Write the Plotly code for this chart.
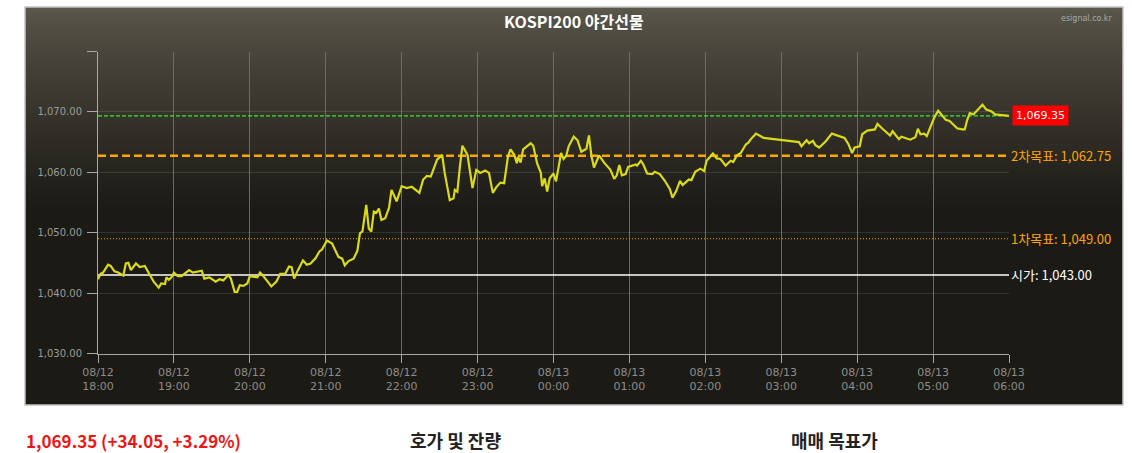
import pandas as pd
import plotly.graph_objects as go

# minutes after 08/12 18:00 and KOSPI200 night futures price
minutes = [
    0, 2, 4, 8, 10, 13, 16, 20, 22, 24, 26, 30, 33, 37, 41, 44, 48, 50, 53, 54,
    56, 58, 60, 63, 66, 72, 75, 80, 82, 84, 88, 93, 96, 99, 103, 105, 108, 110, 112, 115,
    118, 120, 123, 126, 128, 130, 133, 137, 141, 144, 148, 151, 153, 155, 158, 162, 165, 168, 172, 175,
    177, 181, 185, 187, 190, 193, 195, 198, 202, 205, 207, 209, 212, 214, 216, 218, 220, 222, 224, 227,
    230, 232, 236, 240, 244, 248, 251, 254, 257, 260, 263, 265, 268, 272, 274, 278, 281, 282, 284, 286,
    288, 292, 294, 296, 299, 302, 306, 309, 312, 315, 318, 321, 324, 326, 329, 331, 332, 334, 336, 339,
    342, 344, 347, 350, 351, 353, 355, 357, 360, 362, 366, 368, 370, 372, 376, 379, 382, 386, 388, 390,
    392, 396, 400, 405, 408, 410, 412, 414, 417, 419, 422, 425, 426, 429, 431, 434, 438, 440, 444, 448,
    452, 454, 457, 460, 462, 467, 469, 472, 476, 479, 481, 484, 486, 489, 492, 496, 500, 502, 505, 508,
    512, 514, 516, 520, 526, 554, 556, 560, 562, 565, 567, 570, 575, 580, 585, 590, 593, 596, 598, 602,
    604, 608, 614, 616, 620, 624, 626, 628, 631, 633, 635, 638, 642, 646, 648, 650, 653, 655, 658, 661,
    664, 667, 670, 673, 676, 679, 683, 685, 687, 689, 692, 696, 699, 702, 706, 709, 713, 720,
]
prices = [
    1042.3, 1043.2, 1043.4, 1044.7, 1044.5, 1043.6, 1043.4, 1042.9, 1044.9, 1045.0,
    1043.8, 1044.9, 1044.3, 1044.5, 1043.0, 1041.9, 1040.9, 1041.6, 1041.5, 1042.6,
    1042.2, 1042.6, 1043.4, 1042.8, 1042.8, 1043.8, 1043.4, 1043.6, 1043.7, 1042.4,
    1042.6, 1041.9, 1042.3, 1042.1, 1043.0, 1042.4, 1040.2, 1040.2, 1041.3, 1041.2,
    1041.6, 1042.8, 1042.7, 1042.6, 1043.4, 1043.0, 1042.2, 1041.1, 1041.9, 1043.2,
    1043.2, 1044.4, 1044.3, 1042.4, 1043.8, 1045.4, 1044.7, 1044.9, 1045.8, 1046.9,
    1047.2, 1048.7, 1048.2, 1047.2, 1046.0, 1045.7, 1044.6, 1045.3, 1045.7, 1047.0,
    1049.9, 1050.2, 1054.6, 1050.7, 1050.2, 1053.5, 1053.3, 1054.0, 1052.1, 1052.4,
    1054.1, 1057.1, 1055.2, 1057.7, 1057.4, 1057.6, 1057.1, 1056.6, 1058.8, 1059.4,
    1059.3, 1060.4, 1062.1, 1062.9, 1059.9, 1055.4, 1055.7, 1057.1, 1056.8, 1060.9,
    1064.4, 1062.9, 1060.1, 1057.4, 1060.4, 1059.9, 1060.3, 1059.9, 1056.6, 1057.6,
    1058.3, 1058.2, 1062.6, 1063.8, 1062.9, 1061.5, 1062.6, 1061.6, 1063.8, 1064.3,
    1064.8, 1064.4, 1061.5, 1059.9, 1057.7, 1059.0, 1056.8, 1059.0, 1059.8, 1058.5,
    1063.2, 1062.2, 1062.7, 1064.3, 1065.9, 1065.3, 1063.4, 1063.9, 1066.1, 1062.7,
    1060.8, 1062.8, 1061.6, 1060.4, 1058.9, 1059.5, 1061.2, 1059.5, 1059.7, 1060.9,
    1061.1, 1061.3, 1061.1, 1061.9, 1061.3, 1059.8, 1059.7, 1060.1, 1059.7, 1058.6,
    1057.2, 1055.8, 1056.9, 1058.6, 1057.9, 1058.8, 1058.7, 1060.1, 1060.6, 1060.2,
    1061.9, 1062.7, 1063.1, 1062.3, 1062.2, 1061.1, 1061.9, 1061.7, 1062.8, 1063.2,
    1064.6, 1064.9, 1065.5, 1066.4, 1065.7, 1065.0, 1064.3, 1065.3, 1064.8, 1065.2,
    1064.5, 1064.1, 1065.1, 1066.4, 1066.1, 1065.7, 1064.7, 1063.2, 1064.1, 1064.3,
    1066.3, 1066.9, 1067.1, 1068.0, 1067.2, 1066.5, 1066.1, 1066.8, 1065.9, 1065.5,
    1065.9, 1065.7, 1065.4, 1065.8, 1067.2, 1066.3, 1066.4, 1066.0, 1067.6, 1069.1,
    1070.2, 1069.4, 1068.7, 1068.5, 1067.9, 1067.3, 1067.1, 1067.1, 1068.7, 1069.8,
    1069.6, 1070.6, 1071.2, 1070.4, 1070.1, 1069.6, 1069.5, 1069.35,
]

current_price = 1069.35
target2 = 1062.75
target1 = 1049.00
open_price = 1043.00
change_text = "1,069.35 (+34.05, +3.29%)"

tick_labels = [
    "08/12<br>18:00", "08/12<br>19:00", "08/12<br>20:00", "08/12<br>21:00",
    "08/12<br>22:00", "08/12<br>23:00", "08/13<br>00:00", "08/13<br>01:00",
    "08/13<br>02:00", "08/13<br>03:00", "08/13<br>04:00", "08/13<br>05:00",
    "08/13<br>06:00",
]
y_ticks = [1030, 1040, 1050, 1060, 1070]
y_labels = ["1,030.00", "1,040.00", "1,050.00", "1,060.00", "1,070.00"]
y_top = 1080

start = pd.Timestamp("2019-08-12 18:00")
times = [start + pd.Timedelta(minutes=m) for m in minutes]
hours = [start + pd.Timedelta(hours=h) for h in range(len(tick_labels))]
t0, t1 = hours[0], hours[-1]

W, H = 1132, 453


def px(x):
    return x / W


def py(y):
    return (H - y) / H


KR = "Noto Sans CJK KR"

fig = go.Figure()

# reference lines
ref_lines = [
    (current_price, "#2ef02e", 1.3, "4px,2px"),
    (target2, "#ffa500", 2.5, "8px,4px"),
    (target1, "#ffa500", 1, "1px,2px"),
    (open_price, "#ffffff", 1.5, "solid"),
]
for val, col, w, dash in ref_lines:
    fig.add_trace(go.Scatter(
        x=[t0, t1], y=[val, val], mode="lines",
        line=dict(color=col, width=w, dash=dash), hoverinfo="skip",
    ))

fig.add_trace(go.Scatter(
    x=times, y=prices, mode="lines",
    line=dict(color="#dada17", width=2.2), hoverinfo="skip",
))

# dark box with a top gradient
shapes = []
box_l, box_r, box_t, box_b = 25, 1123, 7, 405
top_rgb = (91, 89, 76)
bot_rgb = (28, 26, 21)
g_end = 210
shapes.append(dict(
    type="rect", xref="paper", yref="paper", layer="below",
    x0=px(box_l), x1=px(box_r), y0=py(box_b), y1=py(box_t),
    fillcolor="rgb(%d,%d,%d)" % bot_rgb, line=dict(width=0),
))
n = g_end - box_t
for i in range(n):
    ya = box_t + i
    f = ((i + 0.5) / n) ** 0.8
    c = tuple(round(a + (b - a) * f) for a, b in zip(top_rgb, bot_rgb))
    shapes.append(dict(
        type="rect", xref="paper", yref="paper", layer="below",
        x0=px(box_l), x1=px(box_r), y0=py(ya + 1), y1=py(ya),
        fillcolor="rgb(%d,%d,%d)" % c, line=dict(width=0),
    ))
shapes.append(dict(
    type="rect", xref="paper", yref="paper", layer="below",
    x0=px(box_l), x1=px(box_r), y0=py(box_b), y1=py(box_t),
    fillcolor="rgba(0,0,0,0)", line=dict(color="#c4c4c4", width=1.5),
))


def note(text, x, y, size, color, family=KR, xanchor="center", yref="paper", **kw):
    return dict(text=text, x=x, y=y, xref="paper", yref=yref, xanchor=xanchor,
                yanchor="middle", showarrow=False,
                font=dict(family=family, size=size, color=color), **kw)


annotations = [
    note("<b>KOSPI200 야간선물</b>", px(574), py(21), 16, "#ffffff"),
    note("esignal.co.kr", px(1114), py(19), 8, "#a8a8a0", family="DejaVu Sans", xanchor="right"),
    note("{:,.2f}".format(current_price), px(1012), current_price, 11, "#ffffff",
         family="DejaVu Sans", xanchor="left", yref="y", bgcolor="#ff0000", borderpad=3),
    note("2차목표: {:,.2f}".format(target2), px(1009), target2, 13, "#ffa500",
         xanchor="left", yref="y"),
    note("1차목표: {:,.2f}".format(target1), px(1009), target1, 13, "#ffa500",
         xanchor="left", yref="y"),
    note("시가: {:,.2f}".format(open_price), px(1009), open_price, 13, "#ffffff",
         xanchor="left", yref="y"),
    note("<b>" + change_text + "</b>", px(24), py(440), 17, "#f01414", xanchor="left"),
    note("<b>호가 및 잔량</b>", px(455), py(440), 18, "#222222"),
    note("<b>매매 목표가</b>", px(834), py(440), 18, "#222222"),
]

fig.update_layout(
    width=W, height=H,
    margin=dict(l=0, r=0, t=0, b=0, pad=0),
    paper_bgcolor="#ffffff",
    plot_bgcolor="rgba(0,0,0,0)",
    showlegend=False,
    hovermode=False,
    shapes=shapes,
    annotations=annotations,
    xaxis=dict(
        domain=[px(98), px(1009)], range=[t0, t1], automargin=False,
        tickvals=hours, ticktext=tick_labels,
        ticks="outside", ticklen=8, tickcolor="#a8a8a8",
        showline=True, linecolor="#a8a8a8", linewidth=1,
        showgrid=True, gridcolor="#6a6a66", gridwidth=1,
        zeroline=False,
        tickfont=dict(family="DejaVu Sans", size=11, color="#8c8c88"),
    ),
    yaxis=dict(
        domain=[py(353.5), py(51.5)], range=[1030, y_top], automargin=False,
        tickvals=y_ticks, ticktext=y_labels,
        ticks="outside", ticklen=10, tickcolor="#a8a8a8", ticklabelstandoff=3,
        minor=dict(tickvals=[y_top], ticks="outside", ticklen=10,
                   tickcolor="#a8a8a8", showgrid=False),
        showline=True, linecolor="#a8a8a8", linewidth=1,
        showgrid=True, gridcolor="rgba(255,255,255,0.11)", gridwidth=1,
        zeroline=False,
        tickfont=dict(family="DejaVu Sans", size=10, color="#9c9c98"),
    ),
)

# the page's default body margin would push the figure off the window
fig.write_html(
    "out.html",
    config={"displayModeBar": False},
    post_script="document.body.style.margin='0';document.body.style.overflow='hidden';",
)
